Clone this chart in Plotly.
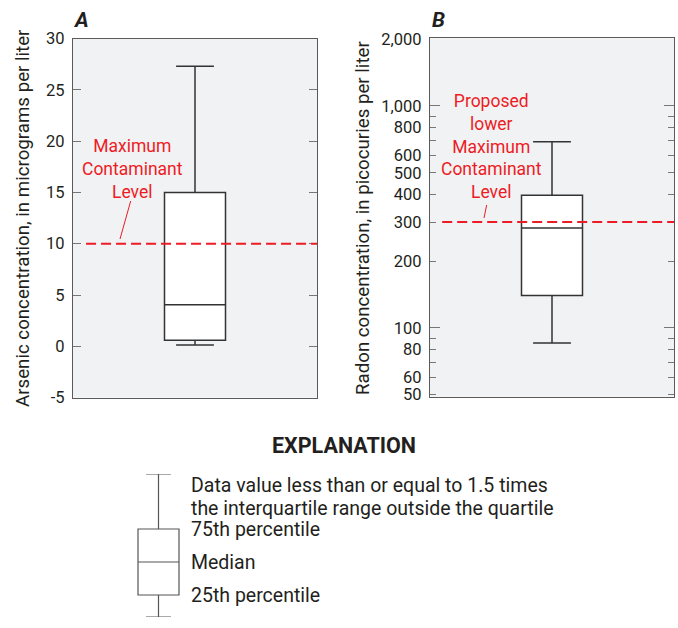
import plotly.graph_objects as go

W, H = 678, 628

# ---- data ----
arsenic_stats = {"lowerfence": 0.13, "q1": 0.6, "median": 4.05, "q3": 15.0, "upperfence": 27.3}
radon_stats = {"lowerfence": 85.6, "q1": 140, "median": 282, "q3": 396, "upperfence": 690}
arsenic_mcl = 10
radon_mcl = 300
arsenic_ticks = [-5, 0, 5, 10, 15, 20, 25, 30]
radon_ticks = [50, 60, 80, 100, 200, 300, 400, 500, 600, 800, 1000, 2000]
radon_ticklabels = ["50", "60", "80", "100", "200", "300", "400", "500", "600", "800", "1,000", "2,000"]
radon_minor = [70, 90, 700, 900]
radon_major_long = [100, 1000]
# schematic values for the explanation box
expl_stats = {"lowerfence": 0, "q1": 22, "median": 55, "q3": 88, "upperfence": 143}
expl_whisker_text = ["Data value less than or equal to 1.5 times",
                     "the interquartile range outside the quartile"]
expl_labels = ["75th percentile", "Median", "25th percentile"]

FONT = "Roboto, Liberation Sans, sans-serif"
TXT = "#231f20"
RED = "#ed1c24"
AX = "#5a5a5a"


def px_x(p):
    return p / W


def px_y(p):
    return 1 - p / H


fig = go.Figure()

box_line = dict(color="#333333", width=1.5)
fig.add_trace(go.Box(x=[0], q1=[arsenic_stats["q1"]], median=[arsenic_stats["median"]],
                     q3=[arsenic_stats["q3"]], lowerfence=[arsenic_stats["lowerfence"]],
                     upperfence=[arsenic_stats["upperfence"]], width=0.5, whiskerwidth=0.62,
                     fillcolor="white", line=box_line,
                     boxpoints=False, xaxis="x", yaxis="y", showlegend=False, hoverinfo="skip"))
fig.add_trace(go.Box(x=[0], q1=[radon_stats["q1"]], median=[radon_stats["median"]],
                     q3=[radon_stats["q3"]], lowerfence=[radon_stats["lowerfence"]],
                     upperfence=[radon_stats["upperfence"]], width=0.5, whiskerwidth=0.62,
                     fillcolor="white", line=box_line,
                     boxpoints=False, xaxis="x2", yaxis="y2", showlegend=False, hoverinfo="skip"))
fig.add_trace(go.Box(x=[0], q1=[expl_stats["q1"]], median=[expl_stats["median"]],
                     q3=[expl_stats["q3"]], lowerfence=[expl_stats["lowerfence"]],
                     upperfence=[expl_stats["upperfence"]], width=1.0, whiskerwidth=0.61,
                     fillcolor="white", line=dict(color="#555555", width=1.2),
                     boxpoints=False, xaxis="x3", yaxis="y3", showlegend=False, hoverinfo="skip"))
# invisible trace so the long-tick overlay axis is drawn
fig.add_trace(go.Scatter(x=[0], y=[radon_mcl], mode="markers", marker=dict(opacity=0),
                         xaxis="x2", yaxis="y4", showlegend=False, hoverinfo="skip"))

yA0, yA1 = px_y(397.6), px_y(38.5)
yB0, yB1 = px_y(396.7), px_y(38.3)

tickfont = dict(family=FONT, size=16.5, color=TXT)

fig.update_layout(
    width=W, height=H, autosize=False, margin=dict(l=0, r=0, t=0, b=0, pad=0, autoexpand=False),
    paper_bgcolor="white", plot_bgcolor="#f1f2f4",
    font=dict(family=FONT, color=TXT),
    xaxis=dict(domain=[px_x(73), px_x(317)], range=[-1, 1], showticklabels=False, ticks="",
               showgrid=False, zeroline=False, showline=True, linecolor=AX, linewidth=1.3, mirror=True),
    yaxis=dict(domain=[yA0, yA1], range=[-5, 30], tickvals=arsenic_ticks,
               ticktext=[str(v) for v in arsenic_ticks], ticks="inside", ticklen=8, tickcolor="#777777",
               tickwidth=1.2, showgrid=False, zeroline=False, showline=True, linecolor=AX, linewidth=1.3,
               mirror="ticks", tickfont=tickfont, ticklabelstandoff=4),
    xaxis2=dict(domain=[px_x(430), px_x(674)], range=[-1, 1], showticklabels=False, ticks="",
                showgrid=False, zeroline=False, showline=True, linecolor=AX, linewidth=1.3, mirror=True,
                anchor="y2"),
    yaxis2=dict(domain=[yB0, yB1], type="log", range=[1.690, 3.305], tickvals=radon_ticks,
                ticktext=radon_ticklabels, ticks="inside", ticklen=6, tickcolor="#777777", tickwidth=1.2,
                showgrid=False, zeroline=False, showline=True, linecolor=AX, linewidth=1.3,
                mirror="ticks", tickfont=tickfont, anchor="x2", ticklabelstandoff=4,
                minor=dict(tickvals=radon_minor, ticks="inside", ticklen=6, tickcolor="#777777",
                           tickwidth=1.2, showgrid=False)),
    yaxis4=dict(domain=[yB0, yB1], type="log", range=[1.690, 3.305], tickvals=radon_major_long,
                showticklabels=False, ticks="inside", ticklen=10, tickcolor="#777777", tickwidth=1.2,
                showgrid=False, zeroline=False, showline=False, mirror="ticks", overlaying="y2",
                anchor="x2"),
    xaxis3=dict(domain=[px_x(97), px_x(220)], range=[-1.5, 1.5], visible=False, anchor="y3"),
    yaxis3=dict(domain=[px_y(617), px_y(474)], range=[0, 143], visible=False, anchor="x3"),
)

# white background behind the explanation schematic
fig.add_shape(type="rect", xref="x3 domain", yref="y3 domain", x0=0, x1=1, y0=0, y1=1,
              fillcolor="white", line=dict(width=0), layer="below")

# MCL dashed lines
fig.add_shape(type="line", xref="x", yref="y", x0=-0.893, x1=1, y0=arsenic_mcl, y1=arsenic_mcl,
              line=dict(color=RED, width=2, dash="10px,5px"))
fig.add_shape(type="line", xref="x2", yref="y2", x0=-0.9, x1=1, y0=radon_mcl, y1=radon_mcl,
              line=dict(color=RED, width=2, dash="10px,5px"))
# leader lines
fig.add_shape(type="line", xref="paper", yref="paper", x0=px_x(130.7), y0=px_y(201),
              x1=px_x(120), y1=px_y(239), line=dict(color=RED, width=1))
fig.add_shape(type="line", xref="paper", yref="paper", x0=px_x(486.7), y0=px_y(205),
              x1=px_x(484), y1=px_y(218), line=dict(color=RED, width=1))


def ann(text, x, y, size, color=TXT, angle=0, xanchor="center", align="center"):
    return dict(text=text, x=px_x(x), y=px_y(y), xref="paper", yref="paper", showarrow=False,
                textangle=angle, xanchor=xanchor, yanchor="middle", align=align,
                font=dict(family=FONT, size=size, color=color))


anns = [
    ann("Maximum<br>Contaminant<br>Level", 132.7, 169, 17.5, RED),
    ann("Proposed<br>lower<br>Maximum<br>Contaminant<br>Level", 491.7, 146.2, 17.5, RED),
    ann("<b><i>A</i></b>", 81, 20, 21),
    ann("<b><i>B</i></b>", 438, 20, 21),
    ann("Arsenic concentration, in micrograms per liter", 23, 218, 18.7, angle=-90),
    ann("Radon concentration, in picocuries per liter", 363, 218, 18.7, angle=-90),
    ann("<b>EXPLANATION</b>", 344, 445, 21.5),
    ann(expl_whisker_text[0], 189, 485, 19.5, xanchor="left", align="left"),
    ann(expl_whisker_text[1], 189, 508, 19.5, xanchor="left", align="left"),
]
for lab, val in zip(expl_labels, [expl_stats["q3"], expl_stats["median"], expl_stats["q1"]]):
    anns.append(dict(text=lab, x=px_x(189), y=val, xref="paper", yref="y3", showarrow=False,
                     xanchor="left", yanchor="middle", font=dict(family=FONT, size=19.5, color=TXT)))
fig.update_layout(annotations=anns)

fig.write_html("out.html", config={"displayModeBar": False},
               post_script="document.body.style.margin='0';document.body.style.overflow='hidden';"
                           "document.documentElement.style.overflow='hidden';")
